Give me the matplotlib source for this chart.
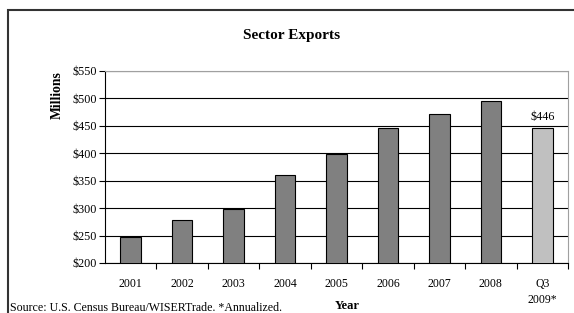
import matplotlib
matplotlib.use("Agg")
import matplotlib.pyplot as plt
from matplotlib.patches import Rectangle

categories = ["2001", "2002", "2003", "2004", "2005", "2006", "2007", "2008", "Q3\n2009*"]
values = [247, 278, 298, 361, 399, 446, 471, 496, 446]
bar_colors = ["#808080"] * 8 + ["#C0C0C0"]
yticks = [200, 250, 300, 350, 400, 450, 500, 550]
ytick_labels = ["$200", "$250", "$300", "$350", "$400", "$450", "$500", "$550"]
annotation = "$446"

plt.rcParams['font.family'] = ['Liberation Serif', 'DejaVu Serif']

W, H = 574, 313
fig = plt.figure(figsize=(W / 100, H / 100), dpi=100)
fig.patch.set_facecolor("white")

# outer border (left and top visible, rest cropped)
fig.add_artist(Rectangle((8 / W, -0.1), 1.2, 1 - 10 / H + 0.1, transform=fig.transFigure,
                         fill=False, edgecolor="#333333", linewidth=1.5))

left, right, top, bottom = 105, 568, 71, 263
ax = fig.add_axes([left / W, 1 - bottom / H, (right - left) / W, (bottom - top) / H])

x = list(range(len(categories)))
ax.bar(x, values, width=0.4, color=bar_colors, edgecolor="black", linewidth=0.8, zorder=3)
ax.set_xlim(-0.5, len(categories) - 0.5)
ax.set_ylim(200, 550)
ax.set_yticks(yticks)
ax.set_yticklabels(ytick_labels, fontsize=8.7)
ax.yaxis.grid(True, color="black", linewidth=0.8, zorder=0)
ax.set_axisbelow(True)

ax.set_xticks(x)
ax.set_xticklabels(categories, fontsize=8.5, linespacing=1.45)
ax.tick_params(axis="x", length=0, pad=11)
ax.set_xticks([i + 0.5 for i in x], minor=True)
ax.tick_params(axis="x", which="minor", length=4, width=0.8, direction="out")
ax.tick_params(axis="y", length=4, width=0.8, direction="out", pad=2)

for s in ["top", "right"]:
    ax.spines[s].set_color("#A0A0A0")
for s in ["left", "bottom"]:
    ax.spines[s].set_color("black")
    ax.spines[s].set_linewidth(0.8)

ax.text(x[-1], values[-1] + 10, annotation, ha="center", va="bottom", fontsize=8.7)

fig.text(292 / W, 1 - 36 / H, "Sector Exports", ha="center", va="center",
         fontsize=11, fontweight="bold")
fig.text(57 / W, 1 - 95 / H, "Millions", ha="center", va="center",
         fontsize=9.8, fontweight="bold", rotation=90)
fig.text(347 / W, 1 - 306 / H, "Year", ha="center", va="center",
         fontsize=9, fontweight="bold")
fig.text(10 / W, 1 - 308 / H, "Source: U.S. Census Bureau/WISERTrade. *Annualized.",
         ha="left", va="center", fontsize=8.6)

fig.savefig("out.png", dpi=100)
